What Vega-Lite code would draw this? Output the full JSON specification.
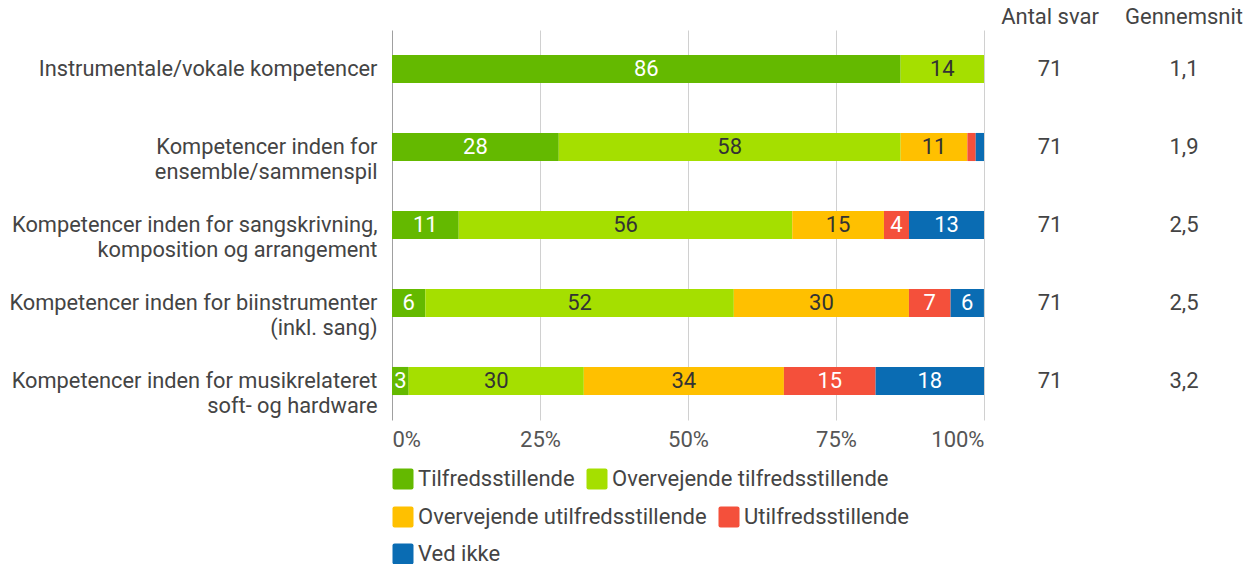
{
  "$schema": "https://vega.github.io/schema/vega-lite/v6.json",
  "background": "white",
  "padding": {"left": 8, "top": 6, "right": 0, "bottom": 0},
  "bounds": "flush",
  "spacing": 0,
  "config": {
    "font": "Roboto",
    "view": {"stroke": null},
    "title": {"fontSize": 22, "fontWeight": "normal", "color": "#444", "anchor": "middle", "offset": 4, "dy": 3},
    "legend": {"orient": "none", "direction": "horizontal", "title": null, "symbolType": "M-0.8,-1H0.8Q1,-1,1,-0.8V0.8Q1,1,0.8,1H-0.8Q-1,1,-1,0.8V-0.8Q-1,-1,-0.8,-1Z", "symbolSize": 441, "symbolStrokeWidth": 0, "symbolOpacity": 1, "labelFontSize": 22, "labelColor": "#444", "columnPadding": 11, "labelOffset": 4, "labelLimit": 500, "legendX": 0}
  },
  "datasets": {
    "bars": [
      {"q": "Instrumentale/vokale kompetencer", "cat": "Tilfredsstillende", "k": 1, "pct": 85.92},
      {"q": "Instrumentale/vokale kompetencer", "cat": "Overvejende tilfredsstillende", "k": 2, "pct": 14.08},
      {"q": "Kompetencer inden for|ensemble/sammenspil", "cat": "Tilfredsstillende", "k": 1, "pct": 28.17},
      {"q": "Kompetencer inden for|ensemble/sammenspil", "cat": "Overvejende tilfredsstillende", "k": 2, "pct": 57.75},
      {"q": "Kompetencer inden for|ensemble/sammenspil", "cat": "Overvejende utilfredsstillende", "k": 3, "pct": 11.27},
      {"q": "Kompetencer inden for|ensemble/sammenspil", "cat": "Utilfredsstillende", "k": 4, "pct": 1.41},
      {"q": "Kompetencer inden for|ensemble/sammenspil", "cat": "Ved ikke", "k": 5, "pct": 1.41},
      {"q": "Kompetencer inden for sangskrivning,|komposition og arrangement", "cat": "Tilfredsstillende", "k": 1, "pct": 11.27},
      {"q": "Kompetencer inden for sangskrivning,|komposition og arrangement", "cat": "Overvejende tilfredsstillende", "k": 2, "pct": 56.34},
      {"q": "Kompetencer inden for sangskrivning,|komposition og arrangement", "cat": "Overvejende utilfredsstillende", "k": 3, "pct": 15.49},
      {"q": "Kompetencer inden for sangskrivning,|komposition og arrangement", "cat": "Utilfredsstillende", "k": 4, "pct": 4.23},
      {"q": "Kompetencer inden for sangskrivning,|komposition og arrangement", "cat": "Ved ikke", "k": 5, "pct": 12.68},
      {"q": "Kompetencer inden for biinstrumenter|(inkl. sang)", "cat": "Tilfredsstillende", "k": 1, "pct": 5.63},
      {"q": "Kompetencer inden for biinstrumenter|(inkl. sang)", "cat": "Overvejende tilfredsstillende", "k": 2, "pct": 52.11},
      {"q": "Kompetencer inden for biinstrumenter|(inkl. sang)", "cat": "Overvejende utilfredsstillende", "k": 3, "pct": 29.58},
      {"q": "Kompetencer inden for biinstrumenter|(inkl. sang)", "cat": "Utilfredsstillende", "k": 4, "pct": 7.04},
      {"q": "Kompetencer inden for biinstrumenter|(inkl. sang)", "cat": "Ved ikke", "k": 5, "pct": 5.63},
      {"q": "Kompetencer inden for musikrelateret|soft- og hardware", "cat": "Tilfredsstillende", "k": 1, "pct": 2.82},
      {"q": "Kompetencer inden for musikrelateret|soft- og hardware", "cat": "Overvejende tilfredsstillende", "k": 2, "pct": 29.58},
      {"q": "Kompetencer inden for musikrelateret|soft- og hardware", "cat": "Overvejende utilfredsstillende", "k": 3, "pct": 33.80},
      {"q": "Kompetencer inden for musikrelateret|soft- og hardware", "cat": "Utilfredsstillende", "k": 4, "pct": 15.49},
      {"q": "Kompetencer inden for musikrelateret|soft- og hardware", "cat": "Ved ikke", "k": 5, "pct": 18.31}
    ],
    "side": [
      {"q": "Instrumentale/vokale kompetencer", "n": 71, "avg": "1,1"},
      {"q": "Kompetencer inden for|ensemble/sammenspil", "n": 71, "avg": "1,9"},
      {"q": "Kompetencer inden for sangskrivning,|komposition og arrangement", "n": 71, "avg": "2,5"},
      {"q": "Kompetencer inden for biinstrumenter|(inkl. sang)", "n": 71, "avg": "2,5"},
      {"q": "Kompetencer inden for musikrelateret|soft- og hardware", "n": 71, "avg": "3,2"}
    ]
  },
  "hconcat": [
    {
      "width": 592,
      "height": 390,
      "data": {"name": "bars"},
      "encoding": {
        "y": {
          "field": "q", "type": "nominal",
          "sort": ["Instrumentale/vokale kompetencer", "Kompetencer inden for|ensemble/sammenspil", "Kompetencer inden for sangskrivning,|komposition og arrangement", "Kompetencer inden for biinstrumenter|(inkl. sang)", "Kompetencer inden for musikrelateret|soft- og hardware"],
          "scale": {"paddingInner": 0.64, "paddingOuter": 0.32},
          "axis": {"title": null, "ticks": false, "domain": false, "labelExpr": "split(datum.label, '|')", "labelFontSize": 21.8, "labelColor": "#444", "labelPadding": 15, "labelLineHeight": 25, "labelLimit": 500}
        }
      },
      "layer": [
        {
          "transform": [
            {"stack": "pct", "groupby": ["q"], "sort": [{"field": "k", "order": "ascending"}], "as": ["x0", "x1"]},
            {"filter": "datum.k <= 2"}
          ],
          "mark": {"type": "bar"},
          "encoding": {
            "x": {
              "field": "x0", "type": "quantitative",
              "scale": {"domain": [0, 100], "nice": false, "clamp": true},
              "axis": {"title": null, "values": [0, 25, 50, 75, 100], "labelExpr": "datum.value + '%'", "ticks": false, "domain": false, "labelFlush": true, "labelFontSize": 22, "labelColor": "#555", "labelPadding": 9, "gridColor": {"condition": {"test": "datum.value === 0", "value": "#a0a0a0"}, "value": "#d0d0d0"}}
            },
            "x2": {"field": "x1"},
            "color": {
              "field": "cat", "type": "nominal",
              "scale": {"domain": ["Tilfredsstillende", "Overvejende tilfredsstillende"], "range": ["#64b900", "#a5df00"]},
              "legend": {"legendY": 438}
            }
          }
        },
        {
          "transform": [
            {"stack": "pct", "groupby": ["q"], "sort": [{"field": "k", "order": "ascending"}], "as": ["x0", "x1"]},
            {"filter": "datum.k == 3 || datum.k == 4"}
          ],
          "mark": {"type": "bar"},
          "encoding": {
            "x": {"field": "x0", "type": "quantitative"},
            "x2": {"field": "x1"},
            "fill": {
              "field": "cat", "type": "nominal",
              "scale": {"domain": ["Overvejende utilfredsstillende", "Utilfredsstillende"], "range": ["#ffc000", "#f4503b"]},
              "legend": {"legendY": 476}
            }
          }
        },
        {
          "transform": [
            {"stack": "pct", "groupby": ["q"], "sort": [{"field": "k", "order": "ascending"}], "as": ["x0", "x1"]},
            {"filter": "datum.k == 5"}
          ],
          "mark": {"type": "bar", "fill": "#0a6cb3", "strokeWidth": 0},
          "encoding": {
            "x": {"field": "x0", "type": "quantitative"},
            "x2": {"field": "x1"},
            "stroke": {
              "field": "cat", "type": "nominal",
              "scale": {"domain": ["Ved ikke"], "range": ["#0a6cb3"]},
              "legend": {"legendY": 513, "symbolFillColor": "#0a6cb3", "symbolStrokeColor": "#0a6cb3"}
            }
          }
        },
        {
          "transform": [{"filter": "datum.pct >= 2"}],
          "mark": {"type": "text", "fontSize": 22},
          "encoding": {
            "x": {"field": "pct", "type": "quantitative", "stack": "zero", "bandPosition": 0.5},
            "text": {"field": "pct", "type": "quantitative", "format": ".0f"},
            "order": {"field": "k", "type": "quantitative"},
            "color": {"condition": {"test": "datum.k == 1 || datum.k == 4 || datum.k == 5", "value": "white"}, "value": "#333"}
          }
        }
      ]
    },
    {
      "width": 132,
      "height": 390,
      "data": {"name": "side"},
      "title": {"text": "Antal svar"},
      "mark": {"type": "text", "fontSize": 22, "color": "#444"},
      "encoding": {
        "y": {"field": "q", "type": "nominal", "sort": ["Instrumentale/vokale kompetencer", "Kompetencer inden for|ensemble/sammenspil", "Kompetencer inden for sangskrivning,|komposition og arrangement", "Kompetencer inden for biinstrumenter|(inkl. sang)", "Kompetencer inden for musikrelateret|soft- og hardware"], "scale": {"paddingInner": 0.64, "paddingOuter": 0.32}, "axis": null},
        "text": {"field": "n", "type": "quantitative"}
      }
    },
    {
      "width": 136,
      "height": 390,
      "data": {"name": "side"},
      "title": {"text": "Gennemsnit"},
      "mark": {"type": "text", "fontSize": 22, "color": "#444"},
      "encoding": {
        "y": {"field": "q", "type": "nominal", "sort": ["Instrumentale/vokale kompetencer", "Kompetencer inden for|ensemble/sammenspil", "Kompetencer inden for sangskrivning,|komposition og arrangement", "Kompetencer inden for biinstrumenter|(inkl. sang)", "Kompetencer inden for musikrelateret|soft- og hardware"], "scale": {"paddingInner": 0.64, "paddingOuter": 0.32}, "axis": null},
        "text": {"field": "avg", "type": "nominal"}
      }
    }
  ]
}
